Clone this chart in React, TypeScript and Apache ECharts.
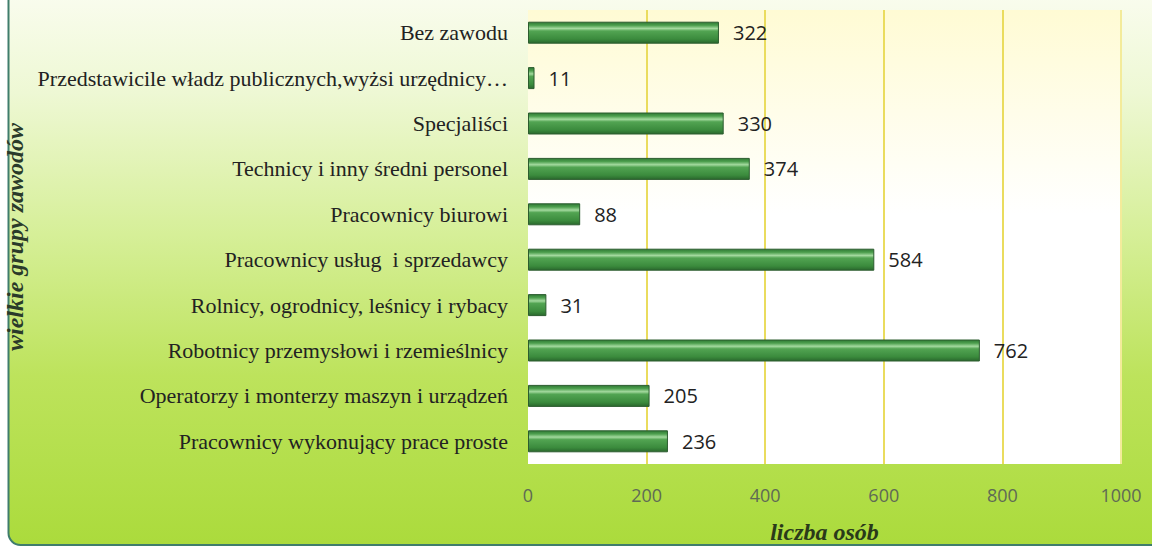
import React, { useEffect, useRef } from "react";
import * as echarts from "echarts";

const categories: string[] = [
  "Bez zawodu",
  "Przedstawicile władz publicznych,wyżsi urzędnicy…",
  "Specjaliści",
  "Technicy i inny średni personel",
  "Pracownicy biurowi",
  "Pracownicy usług  i sprzedawcy",
  "Rolnicy, ogrodnicy, leśnicy i rybacy",
  "Robotnicy przemysłowi i rzemieślnicy",
  "Operatorzy i monterzy maszyn i urządzeń",
  "Pracownicy wykonujący prace proste",
];
const values: number[] = [322, 11, 330, 374, 88, 584, 31, 762, 205, 236];
const xTicks: number[] = [0, 200, 400, 600, 800, 1000];
const xAxisTitle = "liczba osób";
const yAxisTitle = "wielkie grupy zawodów";

export default function App() {
  const ref = useRef<HTMLDivElement>(null);
  useEffect(() => {
    if (!ref.current) return;
    const chart = echarts.init(ref.current, null, { renderer: "svg" });
    chart.setOption({
      animation: false,
      backgroundColor: "#ffffff",
      graphic: [
        {
          type: "rect",
          z: -10,
          silent: true,
          shape: { x: 8.5, y: -20, width: 1170, height: 565, r: 12 },
          style: {
            fill: {
              type: "linear",
              x: 0,
              y: 0,
              x2: 0,
              y2: 1,
              colorStops: [
                { offset: 0, color: "#fbfdf2" },
                { offset: 0.2, color: "#eef8d4" },
                { offset: 0.45, color: "#d6ef98" },
                { offset: 0.7, color: "#bde35c" },
                { offset: 1, color: "#abdb3c" },
              ],
            },
            stroke: "#3f7d6c",
            lineWidth: 2,
          },
        },
      ],
      grid: {
        left: 528,
        right: 31,
        top: 10,
        bottom: 83,
        outerBoundsMode: "none",
        containLabel: false,
        show: true,
        borderWidth: 0,
        backgroundColor: {
          type: "linear",
          x: 0,
          y: 0,
          x2: 0,
          y2: 1,
          colorStops: [
            { offset: 0, color: "#fffbd4" },
            { offset: 0.45, color: "#ffffff" },
            { offset: 1, color: "#ffffff" },
          ],
        },
      },
      xAxis: {
        type: "value",
        min: xTicks[0],
        max: xTicks[xTicks.length - 1],
        interval: 200,
        name: xAxisTitle,
        nameLocation: "middle",
        nameGap: 56,
        nameTextStyle: {
          fontFamily: "Liberation Serif",
          fontStyle: "italic",
          fontWeight: "bold",
          fontSize: 24,
          color: "#2a3a1a",
        },
        axisLine: { show: false },
        axisTick: { show: false },
        axisLabel: {
          margin: 22,
          fontFamily: "Open Sans",
          fontSize: 18,
          color: "#5f6a55",
          formatter: (v: number) => String(v),
        },
        splitLine: {
          show: true,
          lineStyle: {
            color: ["rgba(0,0,0,0)", "#eadc5e", "#eadc5e", "#eadc5e", "#eadc5e", "#f3eb9a"],
            width: 2,
          },
        },
      },
      yAxis: {
        type: "category",
        data: categories,
        inverse: true,
        name: yAxisTitle,
        nameLocation: "middle",
        nameRotate: 90,
        nameGap: 496,
        nameTextStyle: {
          fontFamily: "Liberation Serif",
          fontStyle: "italic",
          fontWeight: "bold",
          fontSize: 24,
          color: "#2a3a2a",
        },
        axisLine: { show: false },
        axisTick: { show: false },
        axisLabel: {
          margin: 20,
          fontFamily: "Liberation Serif",
          fontSize: 22,
          color: "#222222",
        },
      },
      series: [
        {
          type: "bar",
          data: values,
          barWidth: 22,
          itemStyle: {
            color: {
              type: "linear",
              x: 0,
              y: 0,
              x2: 0,
              y2: 1,
              colorStops: [
                { offset: 0, color: "#2f7a35" },
                { offset: 0.15, color: "#4d9f4e" },
                { offset: 0.3, color: "#a3d99e" },
                { offset: 0.42, color: "#52a452" },
                { offset: 0.8, color: "#3b8b3d" },
                { offset: 1, color: "#2a682d" },
              ],
            },
            borderColor: "#2c5c2f",
            borderWidth: 1,
          },
          label: {
            show: true,
            position: "right",
            distance: 14,
            fontFamily: "Open Sans",
            fontSize: 20,
            color: "#222222",
          },
        },
      ],
    });
    return () => chart.dispose();
  }, []);
  return (
    <div
      ref={ref}
      style={{ position: "fixed", left: 0, top: 0, width: 1152, height: 547 }}
    />
  );
}
